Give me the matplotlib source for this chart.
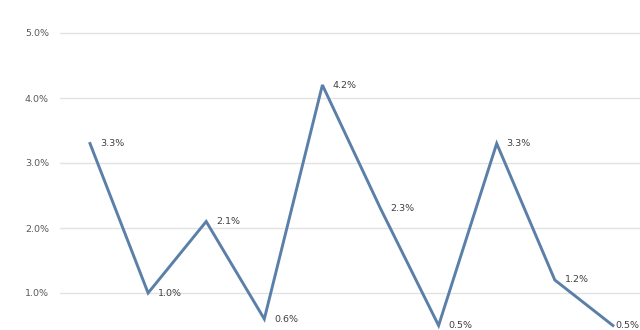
import matplotlib
matplotlib.use("Agg")
import matplotlib.pyplot as plt
from matplotlib.ticker import FuncFormatter

categories = list(range(10))
values = [3.3, 1.0, 2.1, 0.6, 4.2, 2.3, 0.5, 3.3, 1.2, 0.5]
labels = ["3.3%", "1.0%", "2.1%", "0.6%", "4.2%", "2.3%", "0.5%", "3.3%", "1.2%", "0.5%"]
yticks = [1.0, 2.0, 3.0, 4.0, 5.0]

fig = plt.figure(figsize=(6.4, 3.3), dpi=100)
ax = fig.add_axes([60/640, 0, 580/640, 1])
ax.set_ylim(28/65, 358/65)
ax.set_xlim(-30/58.1, 550/58.1)

ax.plot(categories, values, color="#5A7FA8", linewidth=2.1, solid_joinstyle="miter", zorder=3)
n = len(categories)
for i, (x, v, t) in enumerate(zip(categories, values, labels)):
    dx = 1.5 if i == n - 1 else 7
    ax.annotate(t, (x, v), xytext=(dx, 0), textcoords="offset points",
                fontsize=6.8, color="#404040", va="center", ha="left", zorder=4)

ax.set_yticks(yticks)
ax.yaxis.set_major_formatter(FuncFormatter(lambda v, p: f"{v:.1f}%"))
ax.tick_params(axis="y", length=0, pad=8, labelsize=6.8, labelcolor="#595959")
ax.set_xticks([])
ax.grid(axis="y", color="#e3e3e3", linewidth=1)
ax.set_axisbelow(True)
for s in ax.spines.values():
    s.set_visible(False)

fig.savefig("out.png", dpi=100)
